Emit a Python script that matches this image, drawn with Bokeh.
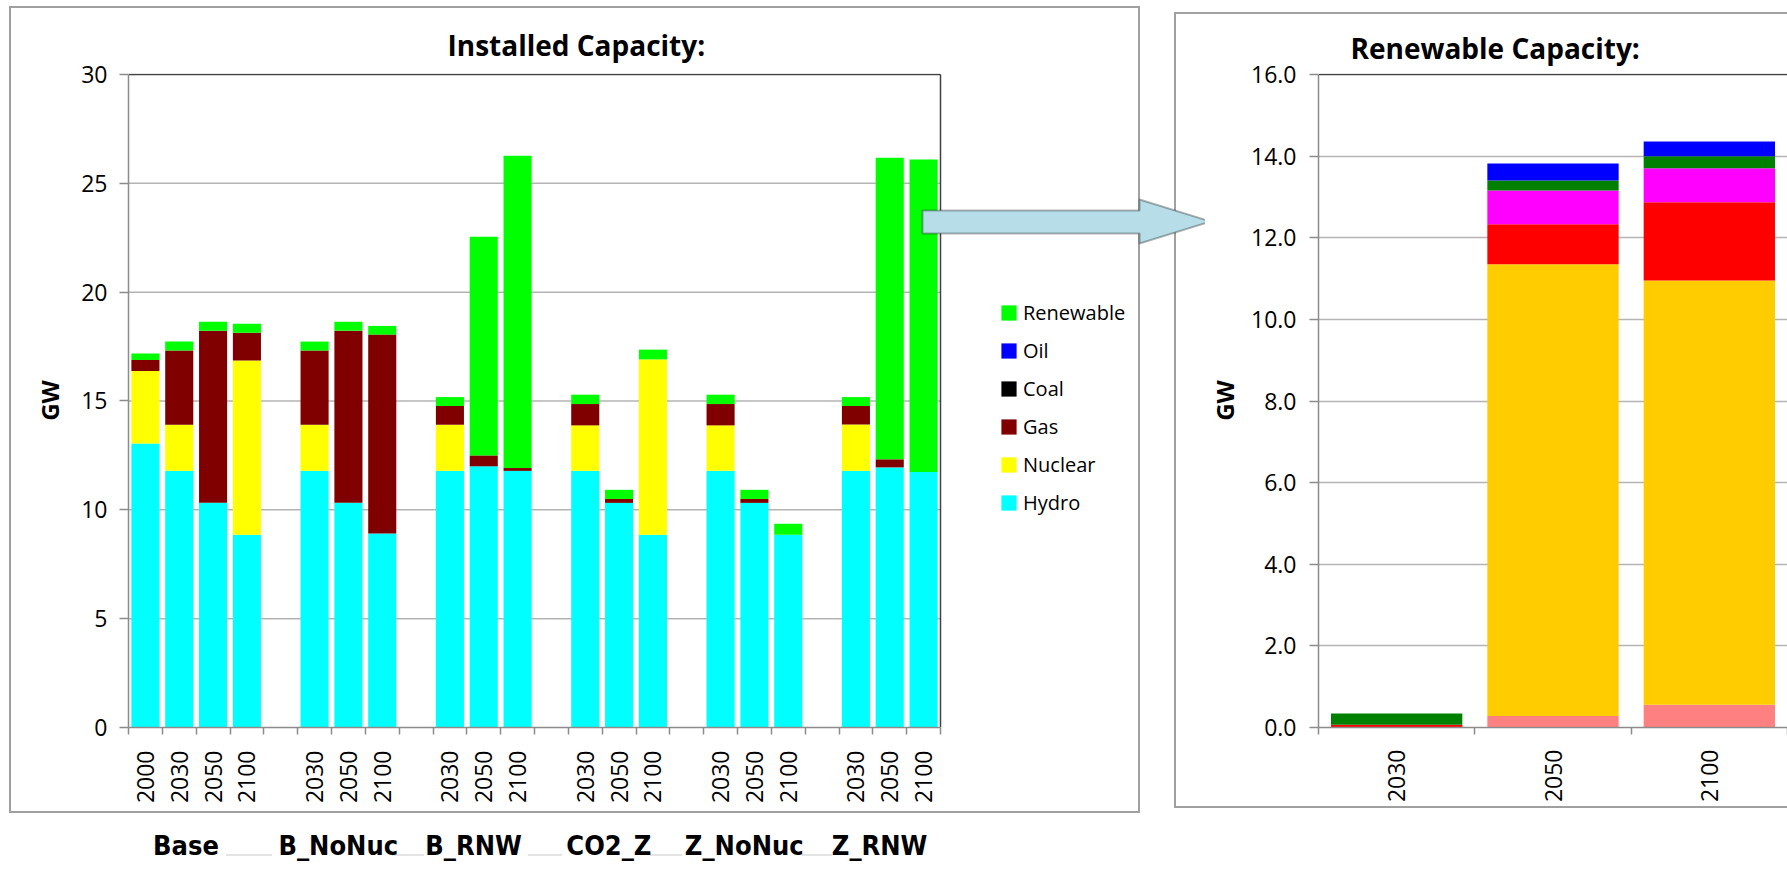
from math import pi
from bokeh.plotting import figure
from bokeh.layouts import row
from bokeh.models import (Range1d, FixedTicker, Legend, LegendItem, LinearAxis,
                          PolyAnnotation, NumeralTickFormatter, ColumnDataSource)
from bokeh.embed import file_html
from bokeh.resources import INLINE

# ---------------- data ----------------
# Installed capacity (GW) per scenario / year
groups = ["Base", "B_NoNuc", "B_RNW", "CO2_Z", "Z_NoNuc", "Z_RNW"]
group_years = [
    ["2000", "2030", "2050", "2100"],
    ["2030", "2050", "2100"],
    ["2030", "2050", "2100"],
    ["2030", "2050", "2100"],
    ["2030", "2050", "2100"],
    ["2030", "2050", "2100"],
]
hydro = [13.05, 11.79, 10.32, 8.86, 11.79, 10.32, 8.91, 11.79, 12.00, 11.79,
         11.79, 10.32, 8.86, 11.79, 10.32, 8.86, 11.79, 11.95, 11.74]
nuclear = [3.33, 2.12, 0.00, 8.00, 2.12, 0.00, 0.00, 2.12, 0.00, 0.00,
           2.09, 0.00, 8.05, 2.09, 0.00, 0.00, 2.13, 0.00, 0.00]
gas = [0.50, 3.41, 7.91, 1.28, 3.41, 7.91, 9.14, 0.86, 0.50, 0.13,
       0.98, 0.18, 0.00, 0.98, 0.18, 0.00, 0.85, 0.37, 0.00]
coal = [0.00, 0.00, 0.00, 0.00, 0.00, 0.00, 0.00, 0.00, 0.00, 0.00,
        0.00, 0.00, 0.00, 0.00, 0.00, 0.00, 0.00, 0.00, 0.00]
oil = [0.00, 0.00, 0.00, 0.00, 0.00, 0.00, 0.00, 0.00, 0.00, 0.00,
       0.00, 0.00, 0.00, 0.00, 0.00, 0.00, 0.00, 0.00, 0.00]
renewable = [0.30, 0.41, 0.41, 0.41, 0.41, 0.41, 0.40, 0.41, 10.05, 14.35,
             0.43, 0.42, 0.45, 0.43, 0.42, 0.50, 0.41, 13.86, 14.35]

techs = ["Hydro", "Nuclear", "Gas", "Coal", "Oil", "Renewable"]
tech_colors = ["#00FFFF", "#FFFF00", "#800000", "#000000", "#0000FF", "#00FF00"]
y_ticks = [0, 5, 10, 15, 20, 25, 30]

# Renewable capacity (GW) breakdown, stacked bottom to top
rnw_years = ["2030", "2050", "2100"]
rnw_pink = [0.00, 0.28, 0.56]
rnw_gold = [0.00, 11.07, 10.39]
rnw_red = [0.07, 0.98, 1.92]
rnw_magenta = [0.00, 0.83, 0.83]
rnw_green = [0.27, 0.24, 0.30]
rnw_blue = [0.00, 0.42, 0.36]
rnw_colors = ["#FF8080", "#FFCC00", "#FF0000", "#FF00FF", "#008000", "#0000FF"]
rnw_ticks = [0, 2, 4, 6, 8, 10, 12, 14, 16]

# ---------------- styling constants ----------------
FONT = "Open Sans"
NARROW = "'Liberation Sans Narrow', 'DejaVu Sans Condensed', sans-serif"
AXIS_GRAY = "#8c8c8c"
GRID_GRAY = "#b4b4b4"
FRAME_GRAY = "#a0a0a0"
BORDER_DARK = "#404040"
RULE_GRAY = "#e4e4e4"
H = 870
LEFT_W = 1205            # left canvas (includes the arrow)
RIGHT_W = 1787 - LEFT_W  # right canvas
# pixel geometry of the two plot areas
L_LEFT, L_RIGHT, L_TOP, L_BOTTOM = 128, 940, 72, 732
R_LEFT, R_TOP, R_BOTTOM = 1312, 74, 727

# slot layout: one empty slot between scenarios
x_centers, years_flat, group_mid = [], [], []
slot = 0
for gi, yrs in enumerate(group_years):
    if gi > 0:
        slot += 1
    start = slot
    for yr in yrs:
        x_centers.append(slot + 0.5)
        years_flat.append(yr)
        slot += 1
    group_mid.append((start + slot) / 2)
n_slots = slot


def css_lines(segs, color):
    """CSS background layers drawing thin rectangles (x, y, w, h) in element pixels."""
    return [f"linear-gradient({color},{color}) {x}px {y}px / {w}px {h}px no-repeat" for x, y, w, h in segs]


def style_axes(fig, title, title_offset, title_standoff):
    for ax in (fig.xaxis[0], fig.yaxis[0]):
        ax.axis_line_color = AXIS_GRAY
        ax.axis_line_width = 1.5
        ax.major_label_text_font = FONT
        ax.major_label_text_font_size = "23px"
        ax.major_label_text_color = "#000000"
        ax.axis_label_text_font = FONT
        ax.axis_label_text_font_size = "24px"
        ax.axis_label_text_font_style = "bold"
        ax.axis_label_text_color = "#000000"
    ya = fig.yaxis[0]
    ya.major_tick_out = 9
    ya.major_tick_in = 0
    ya.major_tick_line_color = AXIS_GRAY
    ya.major_tick_line_width = 1.5
    ya.minor_tick_line_color = None
    ya.major_label_standoff = 12
    ya.axis_label = "GW"
    xa = fig.xaxis[0]
    xa.major_tick_line_color = None
    xa.major_tick_out = 7
    xa.major_tick_in = 0
    xa.minor_tick_out = 7
    xa.minor_tick_in = 0
    xa.minor_tick_line_color = AXIS_GRAY
    xa.minor_tick_line_width = 1.5
    xa.major_label_orientation = pi / 2
    xa.major_label_standoff = 14
    xa.axis_label_standoff = 0
    fig.xgrid.visible = False
    fig.title.text = title
    fig.title.align = "left"
    fig.title.offset = title_offset
    fig.title.standoff = title_standoff
    fig.title.text_font = FONT
    fig.title.text_font_size = "28px"
    fig.title.text_font_style = "bold"
    fig.title.text_color = "#000000"


# ---------------- installed capacity ----------------
L_FRAME_TOP = L_TOP - 1
slot_px = (L_RIGHT - L_LEFT) / n_slots
x_end = (LEFT_W - L_LEFT) / slot_px
y_end = 30 * (L_BOTTOM - L_FRAME_TOP) / (L_BOTTOM - L_TOP)

left_bg = css_lines([(9, 6, 1131, 2), (9, 811, 1131, 2), (9, 6, 2, 807), (1138, 6, 2, 807),
                     (1174, 12, 2, 796), (1174, 12, LEFT_W - 1174, 2), (1174, 806, LEFT_W - 1174, 2)],
                    FRAME_GRAY)
left_bg += css_lines([(226, 854, 46, 2), (392, 854, 32, 2), (528, 854, 34, 2), (650, 854, 32, 2),
                      (802, 854, 30, 2)], RULE_GRAY)

p = figure(width=LEFT_W, height=H, x_range=Range1d(0, x_end), y_range=Range1d(0, y_end),
           output_backend="svg", toolbar_location=None, tools="",
           min_border_left=L_LEFT, min_border_right=0, min_border_top=L_FRAME_TOP,
           min_border_bottom=H - L_BOTTOM, styles={"background": ", ".join(left_bg)})
p.background_fill_color = None
p.border_fill_color = None
p.outline_line_color = None

# horizontal gridlines and plot-area border
p.segment(x0=0, x1=n_slots, y0="y", y1="y", source=ColumnDataSource(dict(y=y_ticks[1:-1])),
          line_color=GRID_GRAY, line_width=1.5, level="underlay")
p.segment(x0=[0, n_slots], x1=[n_slots, n_slots], y0=[30, 0], y1=[30, 30],
          line_color=BORDER_DARK, line_width=1.5)

src = ColumnDataSource(dict(x=x_centers, Hydro=hydro, Nuclear=nuclear, Gas=gas, Coal=coal,
                            Oil=oil, Renewable=renewable))
bars = p.vbar_stack(techs, x="x", width=0.83, fill_color=tech_colors, line_color=None, source=src)

style_axes(p, "Installed Capacity:", 319, 19)
p.ygrid.visible = False
p.yaxis[0].axis_label_standoff = 12
p.yaxis[0].ticker = FixedTicker(ticks=y_ticks)
p.yaxis[0].bounds = (0, 30)
p.xaxis[0].bounds = (0, n_slots)
p.xaxis[0].major_label_standoff = 16
p.xaxis[0].ticker = FixedTicker(ticks=x_centers, minor_ticks=list(range(n_slots + 1)))
p.xaxis[0].major_label_overrides = {c: yr for c, yr in zip(x_centers, years_flat)}

# scenario names on a second axis under the years
label_shift = -0.3
gticks = [m + label_shift for m in group_mid]
gaxis = LinearAxis(ticker=FixedTicker(ticks=gticks, minor_ticks=[]),
                   major_label_overrides={t: g for t, g in zip(gticks, groups)},
                   axis_line_color=None, major_tick_line_color=None, minor_tick_line_color=None,
                   major_tick_out=0, major_tick_in=0, minor_tick_out=0, minor_tick_in=0,
                   major_label_standoff=23, axis_label_standoff=0,
                   major_label_text_font=NARROW, major_label_text_font_size="27px",
                   major_label_text_font_style="bold", major_label_text_color="#000000")
p.add_layout(gaxis, "below")

legend = Legend(items=[LegendItem(label=t, renderers=[r]) for t, r in reversed(list(zip(techs, bars)))],
                location=(871, 211), orientation="vertical", glyph_width=19, glyph_height=19,
                label_height=24, label_standoff=5, spacing=11, padding=0, margin=0,
                border_line_color=None, background_fill_alpha=0,
                label_text_font=FONT, label_text_font_size="20px", label_text_color="#000000")
p.add_layout(legend)

p.add_layout(PolyAnnotation(xs=[922, 1139, 1139, 1210, 1139, 1139, 922],
                            ys=[210, 210, 199, 221, 243, 233, 233],
                            xs_units="canvas", ys_units="canvas", fill_color="#B7DEE8",
                            fill_alpha=1.0, line_color="#000000", line_width=2, level="overlay"))

# ---------------- renewable capacity ----------------
R_FRAME_TOP = R_TOP - 1
ry_end = 16 * (R_BOTTOM - R_FRAME_TOP) / (R_BOTTOM - R_TOP)
right_bg = css_lines([(0, 12, RIGHT_W, 2), (0, 806, RIGHT_W, 2)], FRAME_GRAY)

q = figure(width=RIGHT_W, height=H, x_range=Range1d(0, len(rnw_years)), y_range=Range1d(0, ry_end),
           output_backend="svg", toolbar_location=None, tools="",
           min_border_left=R_LEFT - LEFT_W, min_border_right=0, min_border_top=R_FRAME_TOP,
           min_border_bottom=H - R_BOTTOM, styles={"background": ", ".join(right_bg)})
q.background_fill_color = None
q.border_fill_color = None
q.outline_line_color = None

rx = [i + 0.5 for i in range(len(rnw_years))]
rsrc = ColumnDataSource(dict(x=rx, pink=rnw_pink, gold=rnw_gold, red=rnw_red, magenta=rnw_magenta,
                             green=rnw_green, blue=rnw_blue))
q.vbar_stack(["pink", "gold", "red", "magenta", "green", "blue"], x="x", width=0.84,
             fill_color=rnw_colors, line_color=None, source=rsrc)
q.segment(x0=0, x1=len(rnw_years), y0=16, y1=16, line_color=BORDER_DARK, line_width=1.5)

style_axes(q, "Renewable Capacity:", 32, 14)
q.ygrid.grid_line_color = GRID_GRAY
q.ygrid.grid_line_width = 1.5
q.ygrid.ticker = FixedTicker(ticks=rnw_ticks[1:-1])
q.yaxis[0].ticker = FixedTicker(ticks=rnw_ticks)
q.yaxis[0].bounds = (0, 16)
q.yaxis[0].formatter = NumeralTickFormatter(format="0.0")
q.yaxis[0].major_label_standoff = 13
q.yaxis[0].axis_label_standoff = 7
q.xaxis[0].ticker = FixedTicker(ticks=rx, minor_ticks=list(range(len(rnw_years) + 1)))
q.xaxis[0].major_label_overrides = {c: yr for c, yr in zip(rx, rnw_years)}
q.xaxis[0].major_label_standoff = 15

layout = row(p, q)
open("out.html", "w").write(file_html(layout, INLINE))
